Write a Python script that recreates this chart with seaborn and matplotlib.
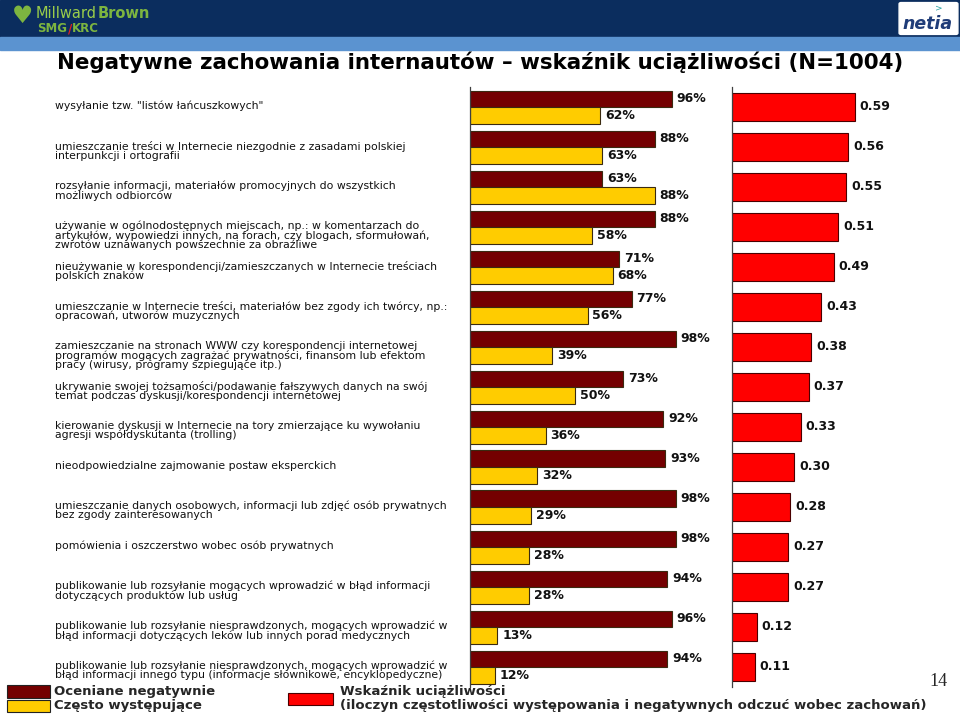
import matplotlib
matplotlib.use("Agg")
import matplotlib.pyplot as plt
import matplotlib.transforms as mtransforms
from matplotlib.patches import Rectangle, FancyBboxPatch
import pandas as pd
import seaborn as sns

sns.set_style("white")
plt.rcParams["font.family"] = ["DejaVu Sans"]

# Data
behaviors = [
    'wysyłanie tzw. "listów łańcuszkowych"',
    'umieszczanie treści w Internecie niezgodnie z zasadami polskiej\ninterpunkcji i ortografii',
    'rozsyłanie informacji, materiałów promocyjnych do wszystkich\nmożliwych odbiorców',
    'używanie w ogólnodostępnych miejscach, np.: w komentarzach do\nartykułów, wypowiedzi innych, na forach, czy blogach, sformułowań,\nzwrotów uznawanych powszechnie za obraźliwe',
    'nieużywanie w korespondencji/zamieszczanych w Internecie treściach\npolskich znaków',
    'umieszczanie w Internecie treści, materiałów bez zgody ich twórcy, np.:\nopracowań, utworów muzycznych',
    'zamieszczanie na stronach WWW czy korespondencji internetowej\nprogramów mogących zagrażać prywatności, finansom lub efektom\npracy (wirusy, programy szpiegujące itp.)',
    'ukrywanie swojej tożsamości/podawanie fałszywych danych na swój\ntemat podczas dyskusji/korespondencji internetowej',
    'kierowanie dyskusji w Internecie na tory zmierzające ku wywołaniu\nagresji współdyskutanta (trolling)',
    'nieodpowiedzialne zajmowanie postaw eksperckich',
    'umieszczanie danych osobowych, informacji lub zdjęć osób prywatnych\nbez zgody zainteresowanych',
    'pomówienia i oszczerstwo wobec osób prywatnych',
    'publikowanie lub rozsyłanie mogących wprowadzić w błąd informacji\ndotyczących produktów lub usług',
    'publikowanie lub rozsyłanie niesprawdzonych, mogących wprowadzić w\nbłąd informacji dotyczących leków lub innych porad medycznych',
    'publikowanie lub rozsyłanie niesprawdzonych, mogących wprowadzić w\nbłąd informacji innego typu (informacje słownikowe, encyklopedyczne)',
]
negative = [96, 88, 63, 88, 71, 77, 98, 73, 92, 93, 98, 98, 94, 96, 94]
frequent = [62, 63, 88, 58, 68, 56, 39, 50, 36, 32, 29, 28, 28, 13, 12]
burden = [0.59, 0.56, 0.55, 0.51, 0.49, 0.43, 0.38, 0.37, 0.33, 0.30, 0.28, 0.27, 0.27, 0.12, 0.11]

series_names = ["Oceniane negatywnie", "Często występujące"]
burden_name = "Wskaźnik uciążliwości"
burden_note = "(iloczyn częstotliwości występowania i negatywnych odczuć wobec zachowań)"

DARK_RED = "#740000"
YELLOW = "#FFCC00"
RED = "#FF0000"

df_pair = pd.DataFrame({
    "behavior": behaviors * 2,
    "series": [series_names[0]] * len(behaviors) + [series_names[1]] * len(behaviors),
    "value": negative + frequent,
})
df_burden = pd.DataFrame({"behavior": behaviors, "burden": burden})

W, H = 960, 716
fig = plt.figure(figsize=(W / 100, H / 100), dpi=100)
renderer = fig.canvas.get_renderer()


def chain_texts(x, y, parts, **kw):
    # place differently coloured pieces of text one after another
    for txt, col, weight in parts:
        t = fig.text(x / W, 1 - y / H, txt, color=col, fontweight=weight, va="center", **kw)
        x = t.get_window_extent(renderer).x1 + 0.5


# header bands
fig.patches.append(Rectangle((0, 1 - 37 / H), 1, 37 / H, transform=fig.transFigure,
                             color="#0B2D5E", zorder=0))
fig.patches.append(Rectangle((0, 1 - 50 / H), 1, 13 / H, transform=fig.transFigure,
                             color="#5B93D0", zorder=0))
fig.text(12 / W, 1 - 16 / H, "\u2665", color="#7DB540", fontsize=17, va="center", ha="left")
chain_texts(36, 13, [("Millward", "#9ACD4A", "normal"), ("Brown", "#7DB540", "bold")], fontsize=10.5)
chain_texts(37, 29, [("SMG", "#7DB540", "bold"), ("/", "#E02020", "bold"), ("KRC", "#7DB540", "bold")],
            fontsize=8.5)
fig.patches.append(FancyBboxPatch((901 / W, 1 - 33 / H), 55 / W, 29 / H, transform=fig.transFigure,
                                  boxstyle="round,pad=0.002", color="white", zorder=1))
fig.text(928 / W, 1 - 24 / H, "netia", color="#1F3C78", fontsize=12.5, va="center", ha="center",
         style="italic", fontweight="bold", zorder=2)
fig.text(939 / W, 1 - 8 / H, ">", color="#2AA3A3", fontsize=6.5, va="center", ha="center", zorder=2)

fig.text(480 / W, 1 - 62 / H, "Negatywne zachowania internautów \u2013 wskaźnik uciążliwości (N=1004)",
         fontsize=15.4, fontweight="bold", ha="center", va="center", color="black")

# axes
ax1 = fig.add_axes([470 / W, 1 - 687 / H, 262 / W, 600 / H])
ax2 = fig.add_axes([732 / W, 1 - 687 / H, 208 / W, 600 / H])

sns.barplot(data=df_pair, x="value", y="behavior", hue="series", order=behaviors,
            hue_order=series_names, palette=[DARK_RED, YELLOW], orient="h", width=0.825,
            edgecolor="#3A2A10", linewidth=0.8, saturation=1, legend=False, ax=ax1)
sns.barplot(data=df_burden, x="burden", y="behavior", order=behaviors, color=RED,
            orient="h", width=0.68, edgecolor="#4A0000", linewidth=0.8, saturation=1, ax=ax2)

for c in ax1.containers:
    ax1.bar_label(c, fmt="%d%%", padding=3.5, fontsize=9, fontweight="bold", color="#111111")
ax2.bar_label(ax2.containers[0], fmt="%.2f", padding=3.5, fontsize=9, fontweight="bold",
              color="#111111")

n = len(behaviors)
for ax, xmax in [(ax1, 124.8), (ax2, 1.0)]:
    ax.set_xlim(0, xmax)
    ax.set_ylim(n - 0.5, -0.5)
    ax.set_xlabel("")
    ax.set_ylabel("")
    ax.set_xticks([])
    ax.set_yticks(range(n))
    ax.set_yticklabels([])
    ax.tick_params(axis="y", which="major", length=0)
    ax.set_yticks([i - 0.5 for i in range(n + 1)], minor=True)
    ax.tick_params(axis="y", which="minor", length=3, width=0.8, color="#404040", direction="out")
    for s in ["top", "right", "bottom"]:
        ax.spines[s].set_visible(False)
    ax.spines["left"].set_color("#404040")
    ax.spines["left"].set_linewidth(0.9)
    ax.set_facecolor("none")

# category labels
trans = mtransforms.blended_transform_factory(fig.transFigure, ax1.transData)
for i, lab in enumerate(behaviors):
    ax1.text(55 / W, i - 0.16, lab, transform=trans, fontsize=7.8, va="top", ha="left",
             linespacing=0.9, color="#111111")

# legend
fig.patches.append(Rectangle((7 / W, 1 - 698 / H), 43 / W, 13 / H, transform=fig.transFigure,
                             facecolor=DARK_RED, edgecolor="#222222", linewidth=0.8))
fig.patches.append(Rectangle((7 / W, 1 - 712 / H), 43 / W, 12 / H, transform=fig.transFigure,
                             facecolor=YELLOW, edgecolor="#222222", linewidth=0.8))
fig.patches.append(Rectangle((288 / W, 1 - 705 / H), 45 / W, 12 / H, transform=fig.transFigure,
                             facecolor=RED, edgecolor="#4A0000", linewidth=0.8))
fig.text(54 / W, 1 - 692 / H, series_names[0], fontsize=9.5, fontweight="bold", va="center")
fig.text(54 / W, 1 - 706 / H, series_names[1], fontsize=9.5, fontweight="bold", va="center")
fig.text(340 / W, 1 - 692 / H, burden_name, fontsize=9.5, fontweight="bold", va="center")
fig.text(340 / W, 1 - 706 / H, burden_note, fontsize=9.5, fontweight="bold", va="center")

fig.text(938 / W, 1 - 682 / H, "14", fontsize=13, family="Liberation Serif", ha="center", va="center")

fig.savefig("out.png", dpi=100)
